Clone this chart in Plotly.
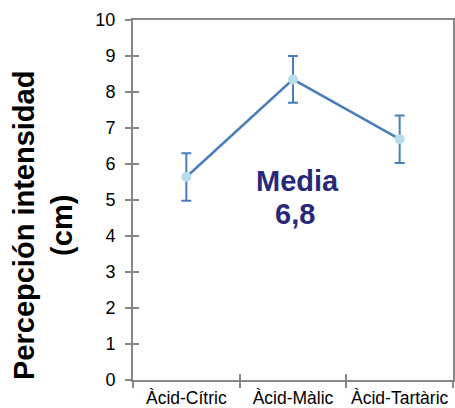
import plotly.graph_objects as go

categories = ["Àcid-Cítric", "Àcid-Màlic", "Àcid-Tartàric"]
values = [5.64, 8.35, 6.69]
errors = [0.66, 0.65, 0.66]
y_ticks = list(range(0, 11))
mean_label = "Media"
mean_value = "6,8"
y_title_1 = "Percepción intensidad"
y_title_2 = "(cm)"

frame = "#868686"
blue = "#4A7EBB"

fig = go.Figure()
fig.add_trace(go.Scatter(
    x=categories, y=values, mode="lines+markers",
    line=dict(color=blue, width=2.5),
    marker=dict(color="#B7DEE8", size=10),
    error_y=dict(type="data", array=errors, color=blue, thickness=2, width=5),
    showlegend=False, hoverinfo="skip",
))
fig.add_trace(go.Scatter(x=[], y=[], xaxis="x2", yaxis="y2", showlegend=False))

font = "Liberation Sans, Arial, sans-serif"
fig.update_layout(
    width=455, height=408,
    margin=dict(l=133, r=2, t=20, b=28, autoexpand=False),
    paper_bgcolor="white", plot_bgcolor="white",
    font=dict(family=font, color="black", size=18),
    xaxis=dict(
        type="category", categoryarray=categories, range=[-0.5, 2.5],
        tickson="boundaries", ticks="outside", ticklen=6, tickwidth=2, tickcolor=frame,
        showline=True, linecolor=frame, linewidth=2, mirror=True,
        showgrid=False, zeroline=False, ticklabelstandoff=1, tickangle=0, automargin=False,
        tickfont=dict(size=17.5, color="black"),
    ),
    yaxis=dict(
        range=[0, 10], tickvals=y_ticks, ticks="outside", ticklen=6, tickwidth=2, tickcolor=frame,
        showline=True, linecolor=frame, linewidth=2, mirror=True, automargin=False,
        showgrid=False, zeroline=False, ticklabelstandoff=6,
        tickfont=dict(size=18, color="black"),
    ),
    xaxis2=dict(
        overlaying="x", anchor="y", range=[-0.5, 2.5], tickvals=[-0.5, 0.5, 1.5, 2.5],
        ticks="inside", ticklen=6, tickwidth=2, tickcolor=frame, showticklabels=False,
        showline=False, showgrid=False, zeroline=False, side="bottom", automargin=False,
    ),
    yaxis2=dict(
        overlaying="y", anchor="x", range=[0, 10], tickvals=y_ticks,
        ticks="inside", ticklen=6, tickwidth=2, tickcolor=frame, showticklabels=False,
        showline=False, showgrid=False, zeroline=False, side="left", automargin=False,
    ),
    annotations=[
        dict(text=f"<b>{y_title_1}</b><br><b>{y_title_2}</b>", xref="paper", yref="paper",
             x=-0.281, y=0.428, xanchor="center", yanchor="middle", textangle=-90,
             showarrow=False, font=dict(size=29, color="black", family=font)),
        dict(text=f"<b>{mean_label}</b>", xref="paper", yref="paper",
             x=0.5125, y=0.553, xanchor="center", yanchor="middle",
             showarrow=False, font=dict(size=29, color="#28287A", family=font)),
        dict(text=f"<b>{mean_value}</b>", xref="paper", yref="paper",
             x=0.506, y=0.462, xanchor="center", yanchor="middle",
             showarrow=False, font=dict(size=29, color="#28287A", family=font)),
    ],
)

fig.write_html("out.html")
